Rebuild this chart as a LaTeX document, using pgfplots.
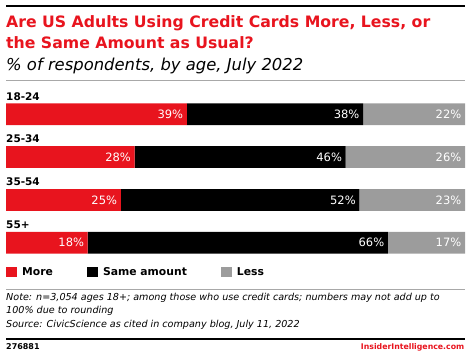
\documentclass[border=0pt]{standalone}
\usepackage{pgfplots}
\pgfplotsset{compat=1.18}
\usepackage{fontspec}
\setmainfont{DejaVu Sans}
\definecolor{emred}{HTML}{E8141E}
\definecolor{emgray}{HTML}{9C9C9C}
\definecolor{linegray}{HTML}{A8A8A8}
\begin{document}
\begin{tikzpicture}
\path[use as bounding box] (0pt,0pt) rectangle (470pt,355pt);
\draw[line width=2.4pt] (6pt,348.8pt) -- (465pt,348.8pt);
\node[anchor=base west, inner sep=0pt, font=\fontsize{15.7}{18}\selectfont\bfseries, text=emred] at (6pt,327.3pt) {Are US Adults Using Credit Cards More, Less, or};
\node[anchor=base west, inner sep=0pt, font=\fontsize{15.7}{18}\selectfont\bfseries, text=emred] at (6pt,306.7pt) {the Same Amount as Usual?};
\node[anchor=base west, inner sep=0pt, font=\fontsize{16.4}{19}\selectfont\itshape] at (6pt,284pt) {\% of respondents, by age, July 2022};
\draw[linegray, line width=0.9pt] (6pt,275pt) -- (465pt,275pt);

\begin{axis}[
  at={(6pt,90.8pt)}, anchor=south west,
  scale only axis, width=459pt, height=171.4pt,
  xbar stacked, bar width=21.7pt,
  xmin=0, xmax=100, ymin=-0.5, ymax=3.5,
  hide axis, clip=false,
  legend image code/.code={\fill[#1] (0pt,-5pt) rectangle (11pt,5pt);},
  legend style={at={(0,0)}, anchor=north west, yshift=-3pt, draw=none, fill=none, inner sep=0pt,
    legend columns=-1, font=\fontsize{10.8}{13}\selectfont\bfseries,
    nodes={inner sep=0pt},
    /tikz/every odd column/.append style={column sep=5pt},
    /tikz/every even column/.append style={column sep=34pt}},
]
\addplot[fill=emred, draw=none] coordinates {(39.4,3) (28.0,2) (25.0,1) (17.8,0)};
\addplot[fill=black, draw=none] coordinates {(38.4,3) (46.0,2) (52.0,1) (65.4,0)};
\addplot[fill=emgray, draw=none] coordinates {(22.2,3) (26.0,2) (23.0,1) (16.8,0)};
\legend{More, Same amount, Less}
\node[anchor=base west, inner sep=0pt, font=\fontsize{10.5}{13}\selectfont\bfseries] at ([yshift=14.2pt]axis cs:0,3) {18-24};
\node[anchor=base west, inner sep=0pt, font=\fontsize{10.5}{13}\selectfont\bfseries] at ([yshift=14.2pt]axis cs:0,2) {25-34};
\node[anchor=base west, inner sep=0pt, font=\fontsize{10.5}{13}\selectfont\bfseries] at ([yshift=14.2pt]axis cs:0,1) {35-54};
\node[anchor=base west, inner sep=0pt, font=\fontsize{10.5}{13}\selectfont\bfseries] at ([yshift=14.2pt]axis cs:0,0) {55+};
\end{axis}

% value labels at the cumulative end of each segment
\begin{axis}[
  at={(6pt,90.8pt)}, anchor=south west,
  scale only axis, width=459pt, height=171.4pt,
  xmin=0, xmax=100, ymin=-0.5, ymax=3.5,
  hide axis, clip=false,
]
\addplot[draw=none, mark=none, point meta=explicit symbolic,
  nodes near coords={\pgfplotspointmeta\%},
  nodes near coords style={anchor=east, text=white, inner sep=0pt, xshift=-3.5pt, font=\fontsize{11.5}{13}\selectfont}]
  table[meta=lab] {
x y lab
39.4 3 39
77.8 3 38
100 3 22
28.0 2 28
74.0 2 46
100 2 26
25.0 1 25
77.0 1 52
100 1 23
17.8 0 18
83.2 0 66
100 0 17
};
\end{axis}

\draw[linegray, line width=0.9pt] (6pt,65.7pt) -- (465pt,65.7pt);
\node[anchor=base west, inner sep=0pt, font=\fontsize{9.6}{11}\selectfont\itshape] at (6pt,54.3pt) {Note: n=3,054 ages 18+; among those who use credit cards; numbers may not add up to};
\node[anchor=base west, inner sep=0pt, font=\fontsize{9.6}{11}\selectfont\itshape] at (6pt,41pt) {100\% due to rounding};
\node[anchor=base west, inner sep=0pt, font=\fontsize{9.6}{11}\selectfont\itshape] at (6pt,27.7pt) {Source: CivicScience as cited in company blog, July 11, 2022};
\draw[line width=2.4pt] (6pt,16pt) -- (465pt,16pt);
\node[anchor=base west, inner sep=0pt, font=\fontsize{8}{9}\selectfont\bfseries] at (6pt,5pt) {276881};
\node[anchor=base east, inner sep=0pt, font=\fontsize{7.8}{10}\selectfont\bfseries, text=emred] at (464.5pt,5pt) {InsiderIntelligence.com};
\end{tikzpicture}
\end{document}
